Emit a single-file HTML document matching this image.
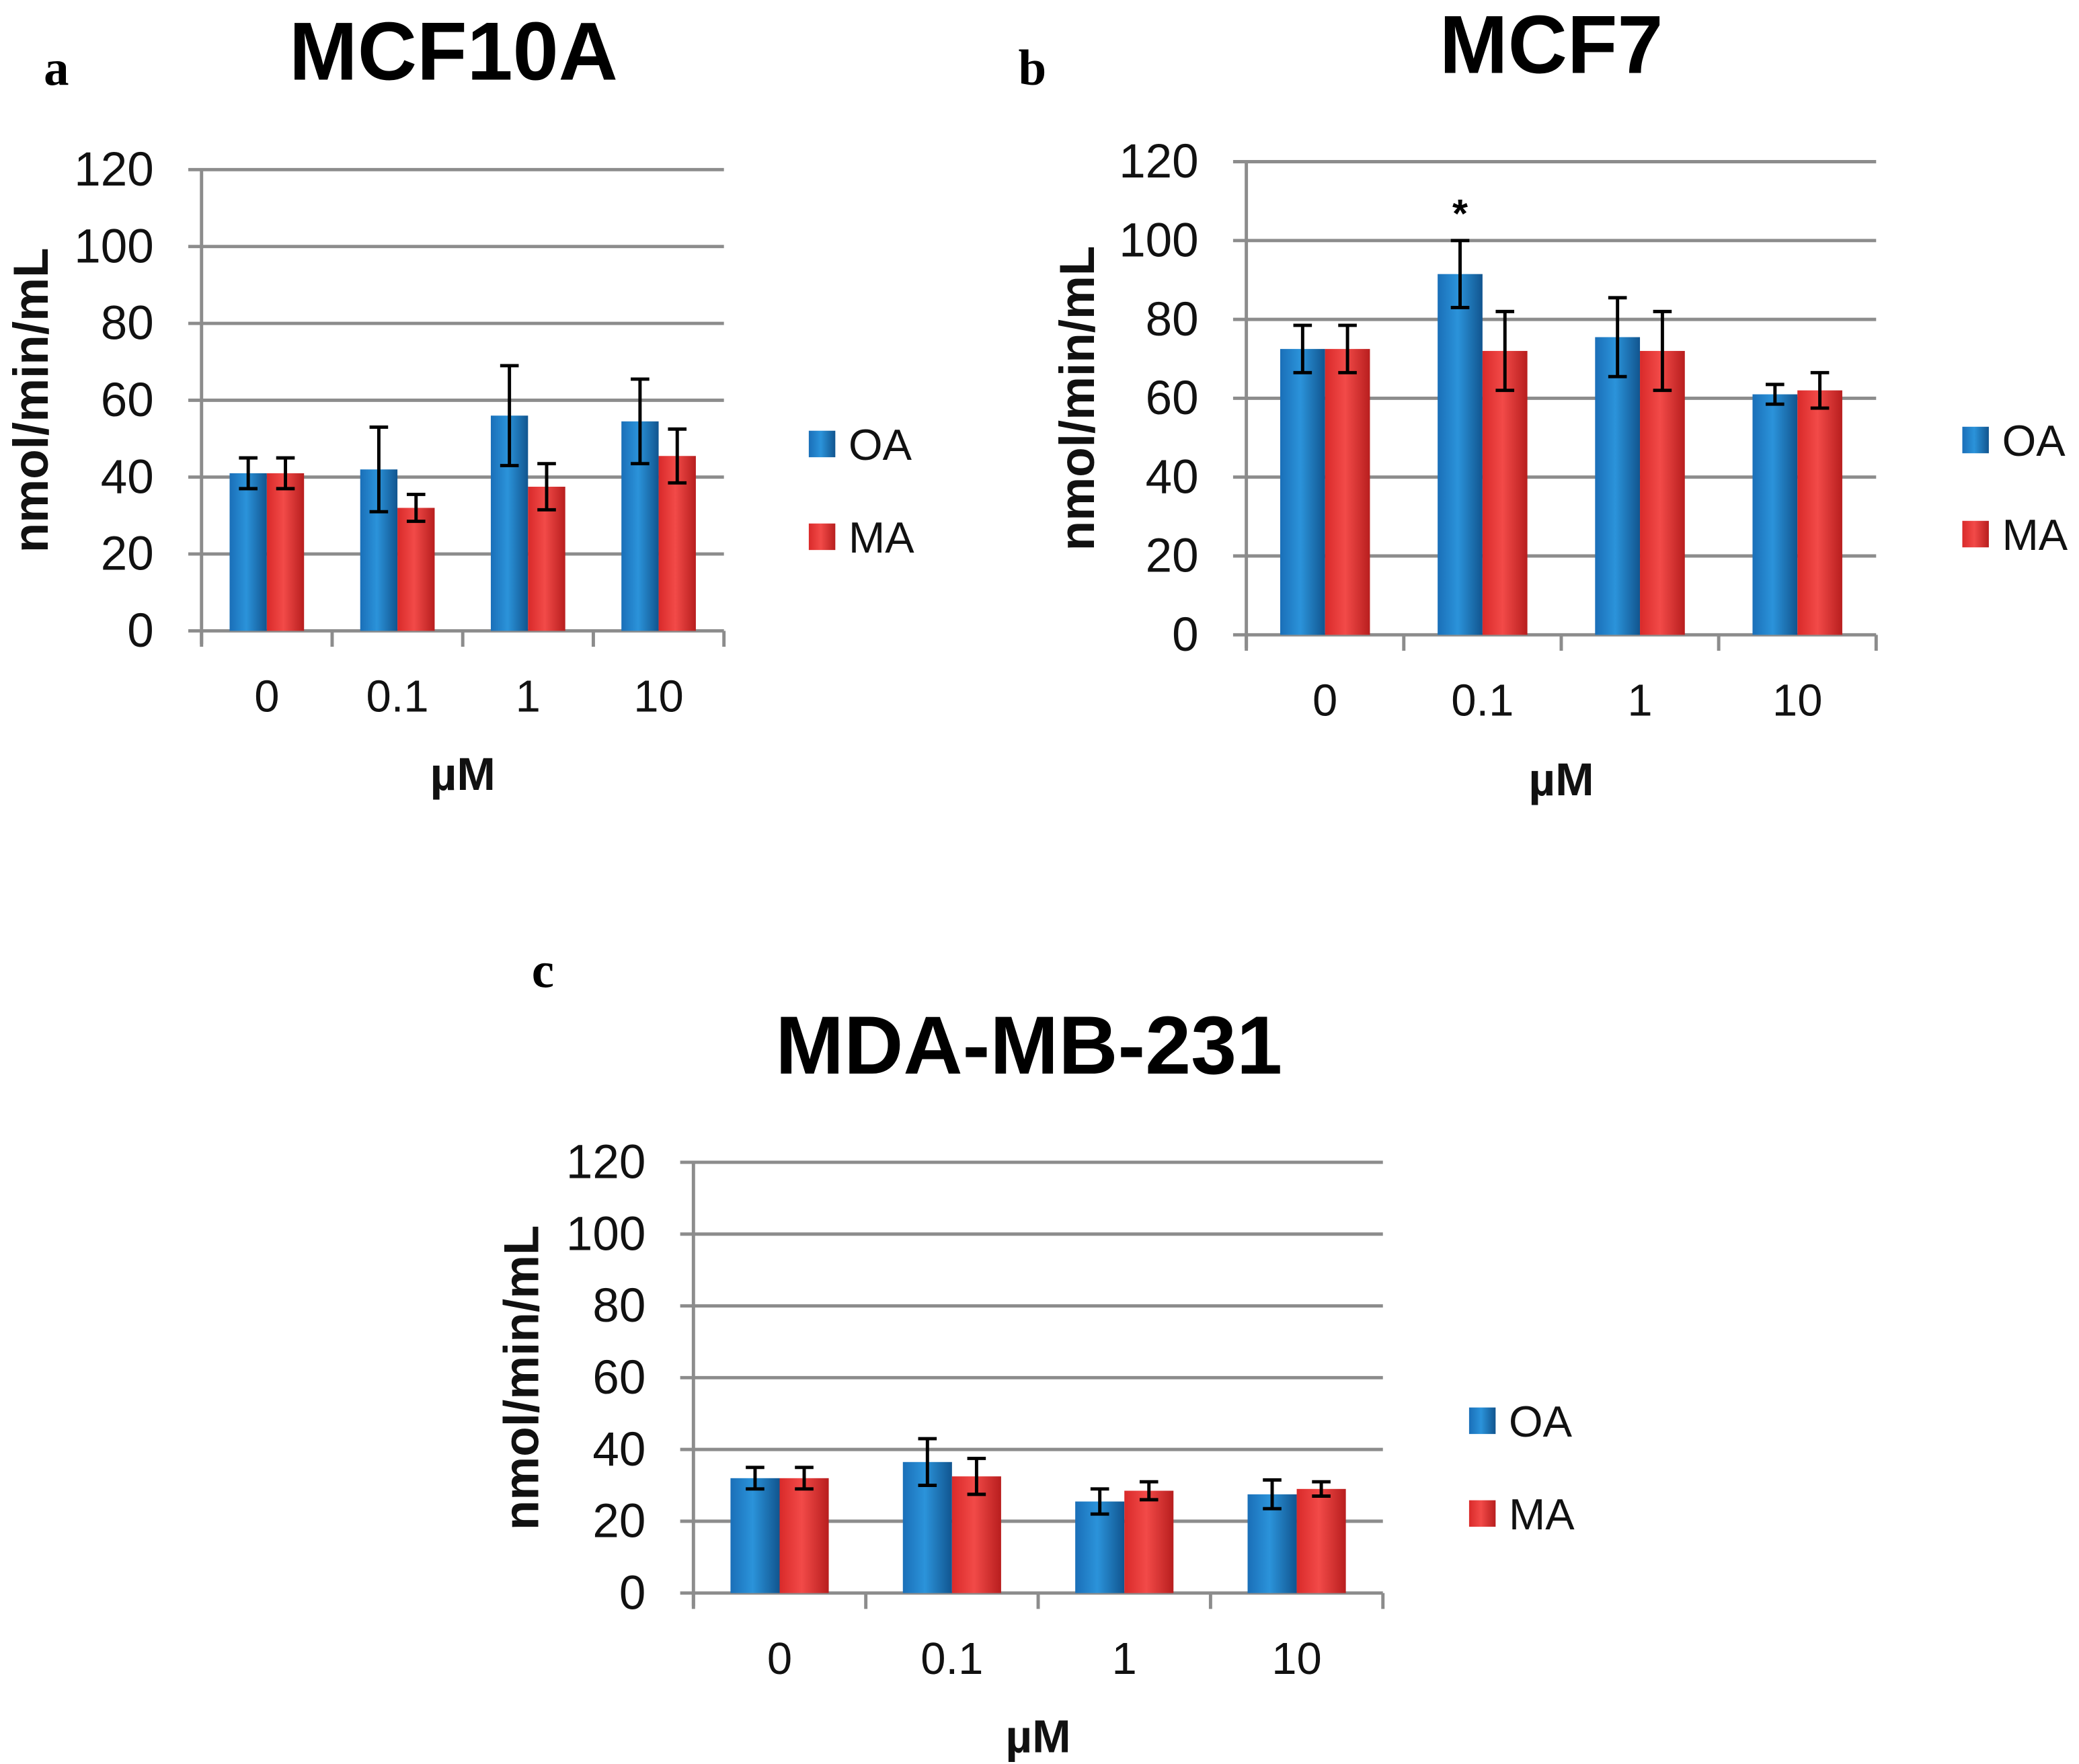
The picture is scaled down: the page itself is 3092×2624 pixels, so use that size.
<!DOCTYPE html>
<html><head><meta charset="utf-8"><style>html,body{margin:0;padding:0;background:#fff}svg{display:block}</style></head>
<body>
<svg id="fig" width="3092" height="2624" viewBox="0 0 1568 1331" preserveAspectRatio="none" xmlns="http://www.w3.org/2000/svg" font-family="'Liberation Sans', 'DejaVu Sans', sans-serif">
<defs>
<linearGradient id="gb" x1="0" x2="1" y1="0" y2="0"><stop offset="0" stop-color="#1a6fb8"/><stop offset="0.45" stop-color="#2b93da"/><stop offset="1" stop-color="#11558f"/></linearGradient>
<linearGradient id="gr" x1="0" x2="1" y1="0" y2="0"><stop offset="0" stop-color="#d92a2a"/><stop offset="0.45" stop-color="#f24a48"/><stop offset="1" stop-color="#b81e1e"/></linearGradient>
</defs>
</svg>
<script>
const categories = ["0", "0.1", "1", "10"];
const yTicks = [0, 20, 40, 60, 80, 100, 120];
const aOA = [41, 42, 56, 54.5];
const aMA = [41, 32, 37.5, 45.5];
const aOAerr = [4, 11, 13, 11];
const aMAerr = [4, 3.5, 6, 7];
const bOA = [72.5, 91.5, 75.5, 61];
const bMA = [72.5, 72, 72, 62];
const bOAerr = [6, 8.5, 10, 2.5];
const bMAerr = [6, 10, 10, 4.5];
const cOA = [32, 36.5, 25.5, 27.5];
const cMA = [32, 32.5, 28.5, 29];
const cOAerr = [3, 6.5, 3.5, 4];
const cMAerr = [3, 5, 2.5, 2];

const svg = document.getElementById('fig');
const NS = 'http://www.w3.org/2000/svg';
function mk(tag, attrs, parent, text) {
  const e = document.createElementNS(NS, tag);
  for (const k in attrs) e.setAttribute(k, attrs[k]);
  if (text !== undefined) e.textContent = text;
  (parent || svg).appendChild(e);
  return e;
}
function chart(cfg) {
  const g = mk('g', {});
  
  
  const y = v => cfg.y0 - (v / 120) * (cfg.y0 - cfg.y120);
  const cw = (cfg.xEnd - cfg.x0) / categories.length;
  yTicks.forEach(t => {
    if (t > 0) {
      const l = mk('line', {x1: cfg.x0 - 10, x2: cfg.xEnd, y1: y(t), y2: y(t), stroke: '#8c8c8c', 'stroke-width': 2.5}, g);
      
      
    }
    const tl = mk('text', {x: cfg.x0 - 36, y: y(t) + 12, 'font-size': 36, 'text-anchor': 'end', fill: '#111'}, g, String(t));
    
    
  });
  const ya = mk('line', {x1: cfg.x0, x2: cfg.x0, y1: cfg.y120, y2: cfg.y0 + 10, stroke: '#8c8c8c', 'stroke-width': 2.5}, g);
  
  
  const xa = mk('line', {x1: cfg.x0 - 10, x2: cfg.xEnd, y1: cfg.y0, y2: cfg.y0, stroke: '#8c8c8c', 'stroke-width': 2.5}, g);
  
  
  for (let i = 0; i <= categories.length; i++) {
    const tk = mk('line', {x1: cfg.x0 + i * cw, x2: cfg.x0 + i * cw, y1: cfg.y0, y2: cfg.y0 + 12, stroke: '#8c8c8c', 'stroke-width': 2.5}, g);
    
    
  }
  const bw = cw * 0.285;
  categories.forEach((c, i) => {
    const cx = cfg.x0 + (i + 0.5) * cw;
    [[cfg.oa, cfg.oaErr, 'url(#gb)', cx - bw, 'OA'], [cfg.ma, cfg.maErr, 'url(#gr)', cx, 'MA']].forEach(([vals, errs, fill, bx, s]) => {
      const v = vals[i];
      const r = mk('rect', {x: bx, y: y(v), width: bw, height: cfg.y0 - y(v), fill: fill}, g);
      
      
      const ex = bx + bw / 2, e = errs[i];
      const eb = mk('path', {d: `M${ex},${y(v + e)}V${y(v - e)}M${ex - 7},${y(v + e)}H${ex + 7}M${ex - 7},${y(v - e)}H${ex + 7}`, stroke: '#000', 'stroke-width': 2.5, fill: 'none'}, g);
      
      
    });
    const xl = mk('text', {x: cx, y: cfg.y0 + 61, 'font-size': 34, 'text-anchor': 'middle', fill: '#111'}, g, c);
    
    
  });
  const xt = mk('text', {x: cfg.x0 + 2 * cw, y: cfg.xTitleY, 'font-size': 35, 'font-weight': 'bold', 'text-anchor': 'middle', fill: '#111'}, g, 'µM');
  
  
  const ym = (cfg.y0 + cfg.y120) / 2;
  const yt = mk('text', {x: cfg.yTitleX, y: ym, 'font-size': 37, 'font-weight': 'bold', 'text-anchor': 'middle', fill: '#111', transform: `rotate(-90 ${cfg.yTitleX} ${ym})`}, g, 'nmol/min/mL');
  
  
  const tt = mk('text', {x: cfg.titleX, y: cfg.titleY, 'font-size': 62, 'font-weight': 'bold', 'text-anchor': 'middle', fill: '#000'}, g, cfg.title);
  
  
  const pl = mk('text', {x: cfg.letterX, y: cfg.letterY, 'font-size': 38, 'font-weight': 'bold', 'font-family': "'Liberation Serif', serif", fill: '#000'}, g, cfg.letter);
  
  
  [['OA', 'url(#gb)', cfg.legY1], ['MA', 'url(#gr)', cfg.legY2]].forEach(([s, f, ly]) => {
    const sw = mk('rect', {x: cfg.legX, y: ly - 10, width: 20, height: 20, fill: f}, g);
    
    
    const lt = mk('text', {x: cfg.legX + 30, y: ly + 12, 'font-size': 33, fill: '#111'}, g, s);
    
    
  });
  return {g, y, cw};
}
chart({name: 'chart-mcf10a', x0: 152, xEnd: 546, y0: 476, y120: 128, oa: aOA, ma: aMA, oaErr: aOAerr, maErr: aMAerr,
  xTitleY: 596, yTitleX: 36, title: 'MCF10A', titleX: 342, titleY: 60, letter: 'a', letterX: 33, letterY: 64, legX: 610, legY1: 335, legY2: 405});
const b = chart({name: 'chart-mcf7', x0: 940, xEnd: 1415, y0: 479, y120: 122, oa: bOA, ma: bMA, oaErr: bOAerr, maErr: bMAerr,
  xTitleY: 600, yTitleX: 825, title: 'MCF7', titleX: 1170, titleY: 55, letter: 'b', letterX: 768, letterY: 64, legX: 1480, legY1: 332, legY2: 403});
const star = mk('text', {x: 940 + 1.5 * b.cw - b.cw * 0.1425, y: b.y(bOA[1] + bOAerr[1]) - 10, 'font-size': 30, 'font-weight': 'bold', 'text-anchor': 'middle', fill: '#000'}, b.g, '*');


chart({name: 'chart-mda-mb-231', x0: 523, xEnd: 1043, y0: 1202, y120: 877, oa: cOA, ma: cMA, oaErr: cOAerr, maErr: cMAerr,
  xTitleY: 1322, yTitleX: 406, title: 'MDA-MB-231', titleX: 776, titleY: 810, letter: 'c', letterX: 401, letterY: 745, legX: 1108, legY1: 1072, legY2: 1142});
</script>
</body></html>
